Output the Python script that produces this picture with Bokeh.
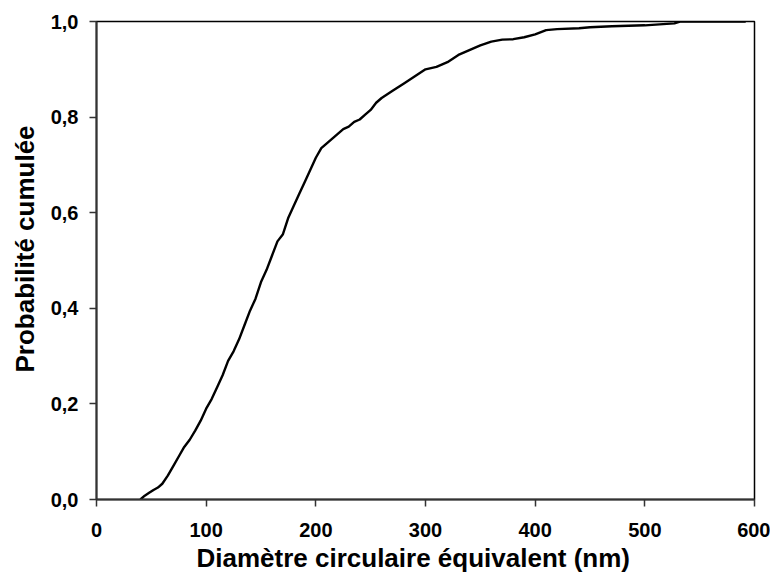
from bokeh.plotting import figure
from bokeh.models import Range1d, FixedTicker, CustomJSTickFormatter, Title
from bokeh.embed import file_html
from bokeh.resources import INLINE

# Diamètre circulaire équivalent (nm) and cumulative probability
diametre = [40, 44, 48, 52, 56, 60, 65, 70, 75, 80, 85, 90, 95, 100, 105, 110, 115, 120,
            125, 130, 135, 140, 145, 150, 155, 160, 165, 170, 175, 180, 185, 190, 195,
            200, 205, 210, 215, 220, 225, 230, 235, 240, 245, 250, 255, 260, 270, 280,
            290, 300, 310, 320, 330, 340, 350, 360, 370, 380, 390, 400, 410, 420, 440,
            450, 470, 500, 520, 527, 532, 560, 592]
probabilite = [0.0, 0.008, 0.014, 0.02, 0.025, 0.033, 0.05, 0.07, 0.09, 0.11, 0.125, 0.144,
               0.165, 0.19, 0.21, 0.235, 0.26, 0.29, 0.31, 0.335, 0.365, 0.395, 0.42, 0.455,
               0.48, 0.51, 0.54, 0.555, 0.59, 0.615, 0.64, 0.665, 0.69, 0.715, 0.735, 0.745,
               0.755, 0.765, 0.775, 0.78, 0.79, 0.795, 0.805, 0.815, 0.83, 0.84, 0.855,
               0.87, 0.885, 0.9, 0.905, 0.915, 0.93, 0.94, 0.95, 0.958, 0.962, 0.963, 0.967,
               0.973, 0.982, 0.984, 0.986, 0.988, 0.99, 0.992, 0.995, 0.996, 1.0, 1.0, 1.0]

x_ticks = [0, 100, 200, 300, 400, 500, 600]
y_ticks = [0.0, 0.2, 0.4, 0.6, 0.8, 1.0]
x_label = "Diamètre circulaire équivalent (nm)"
y_label = "Probabilité cumulée"

FONT = "Liberation Sans"

p = figure(width=770, height=574, output_backend="svg", toolbar_location=None,
           x_range=Range1d(0, 600), y_range=Range1d(0, 1.0),
           min_border_left=95, min_border_right=16, min_border_top=21, min_border_bottom=75)

p.line(diametre, probabilite, line_color="black", line_width=2.4)

p.xgrid.visible = False
p.ygrid.visible = False
p.outline_line_color = "black"
p.outline_line_width = 1.5
p.background_fill_color = "white"
p.border_fill_color = "white"

p.xaxis.ticker = FixedTicker(ticks=x_ticks)
p.yaxis.ticker = FixedTicker(ticks=y_ticks)
p.yaxis.formatter = CustomJSTickFormatter(code="return tick.toFixed(1).replace('.', ',');")

for ax in (p.xaxis[0], p.yaxis[0]):
    ax.axis_line_color = "#333333"
    ax.axis_line_width = 2
    ax.major_tick_line_color = "#333333"
    ax.major_tick_line_width = 1.5
    ax.major_tick_out = 7
    ax.major_tick_in = 0
    ax.minor_tick_out = 0
    ax.minor_tick_in = 0
    ax.major_label_text_font = FONT
    ax.major_label_text_font_style = "bold"
    ax.major_label_text_font_size = "20px"
    ax.major_label_text_color = "black"

p.xaxis.major_label_standoff = 16
p.yaxis.major_label_standoff = 11

xt = Title(text=x_label, align="left", offset=100, standoff=2,
           text_font=FONT, text_font_style="bold", text_font_size="26px", text_color="black")
p.add_layout(xt, "below")
yt = Title(text=y_label, align="left", offset=127, standoff=15,
           text_font=FONT, text_font_style="bold", text_font_size="26px", text_color="black")
p.add_layout(yt, "left")

open("out.html", "w").write(file_html(p, INLINE))
